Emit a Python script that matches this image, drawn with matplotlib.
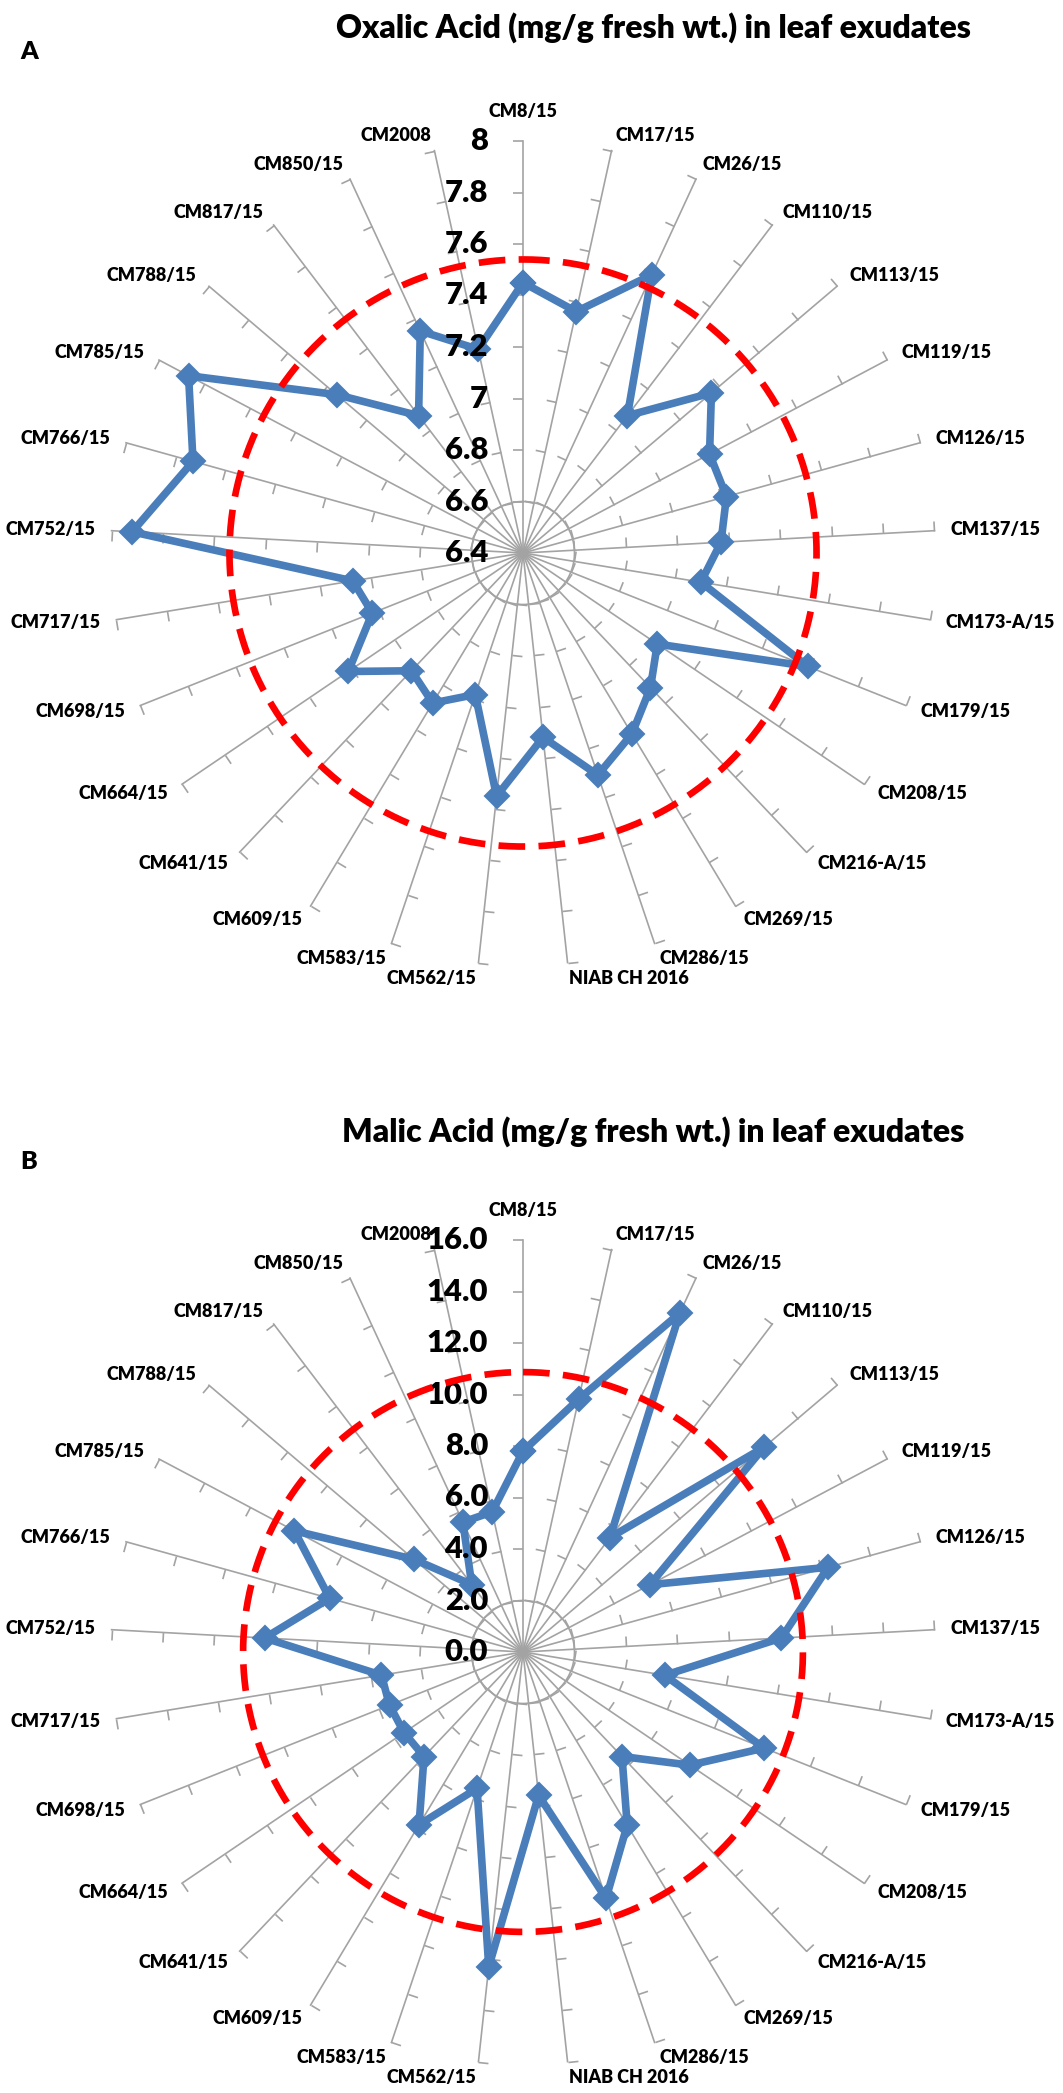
import numpy as np
import matplotlib
matplotlib.use('Agg')
import matplotlib.pyplot as plt
from matplotlib.path import Path
from matplotlib.markers import MarkerStyle

plt.rcParams['font.family'] = ['Lato', 'DejaVu Sans']
plt.rcParams['font.weight'] = 'heavy'

categories = ['CM8/15', 'CM17/15', 'CM26/15', 'CM110/15', 'CM113/15', 'CM119/15',
              'CM126/15', 'CM137/15', 'CM173-A/15', 'CM179/15', 'CM208/15',
              'CM216-A/15', 'CM269/15', 'CM286/15', 'NIAB CH 2016', 'CM562/15',
              'CM583/15', 'CM609/15', 'CM641/15', 'CM664/15', 'CM698/15',
              'CM717/15', 'CM752/15', 'CM766/15', 'CM785/15', 'CM788/15',
              'CM817/15', 'CM850/15', 'CM2008']

oxalic = [7.45, 7.36, 7.59, 7.07, 7.36, 7.22, 7.22, 7.17, 7.10, 7.59, 7.03,
          7.12, 7.22, 7.31, 7.12, 7.35, 6.98, 7.08, 7.03, 7.22, 7.03, 7.07,
          7.92, 7.73, 7.87, 7.35, 7.07, 7.35, 7.21]
malic = [7.8, 10.05, 14.5, 5.58, 12.28, 5.58, 12.3, 10.05, 5.58, 10.08, 7.83,
         5.59, 7.85, 10.1, 5.6, 12.3, 5.59, 7.83, 5.59, 5.58, 5.58, 5.57,
         10.05, 7.79, 10.05, 5.56, 3.29, 5.56, 5.57]

oxalic_ticks = [6.4, 6.6, 6.8, 7.0, 7.2, 7.4, 7.6, 7.8, 8.0]
oxalic_tick_labels = ['6.4', '6.6', '6.8', '7', '7.2', '7.4', '7.6', '7.8', '8']
malic_ticks = [0, 2, 4, 6, 8, 10, 12, 14, 16]
malic_tick_labels = ['0.0', '2.0', '4.0', '6.0', '8.0', '10.0', '12.0', '14.0', '16.0']

oxalic_ref = 7.54   # red dashed reference circle
malic_ref = 10.87

blue = '#4a7ebb'
grey = '#a3a3a3'
PX = 0.72  # points per pixel at dpi 100


def radar(ax, values, ticks, tick_labels, ref):
    n = len(categories)
    theta = np.arange(n) * 2 * np.pi / n
    rmin, rmax = ticks[0], ticks[-1]
    ax.set_theta_zero_location('N')
    ax.set_theta_direction(-1)
    ax.set_ylim(rmin, rmax)
    ax.axis('off')

    tick_len = 10 * PX
    for t in theta:
        ax.plot([t, t], [rmin, rmax], color=grey, lw=1.2, zorder=1, clip_on=False)
        c, s = np.cos(t), np.sin(t)
        m = max(abs(c), abs(s))
        mk = MarkerStyle(Path([(0, 0), (-c, s)]))
        ax.plot([t] * (len(ticks) - 1), ticks[1:], ls='none', marker=mk,
                markersize=2 * tick_len * m, markeredgecolor=grey,
                markerfacecolor='none', markeredgewidth=1.2, zorder=1, clip_on=False)

    # small grey circle at the first gridline
    circ_t = np.linspace(0, 2 * np.pi, 200)
    ax.plot(circ_t, [ticks[1]] * len(circ_t), color=grey, lw=1.2, zorder=1)

    # data series
    ax.plot(np.append(theta, theta[0]), list(values) + [values[0]], color=blue,
            lw=5.5, marker='D', markersize=12, markeredgecolor=blue,
            markeredgewidth=1.5, zorder=3, clip_on=False)

    # reference circle
    ax.plot(circ_t, [ref] * len(circ_t), color='red', lw=4.8, ls=(0, (4, 2)),
            zorder=4, clip_on=False)

    # value axis labels on the first spoke
    for tv, tl in zip(ticks, tick_labels):
        ax.annotate(tl, xy=(0, tv), xytext=(-35 * PX, 0), textcoords='offset points',
                    ha='right', va='center', fontsize=22.3, fontweight='heavy',
                    annotation_clip=False)

    # category labels
    gap = 16 * PX
    for t, lab in zip(theta, categories):
        s, c = np.sin(t), np.cos(t)
        if abs(s) < 1e-6:
            off = (0, 30 * PX)
            ha = 'center'
        else:
            off = (gap * s, gap * c)
            ha = 'left' if s > 0 else 'right'
        ax.annotate(lab, xy=(t, rmax), xytext=off, textcoords='offset points',
                    ha=ha, va='center', fontsize=13, fontweight='heavy',
                    annotation_clip=False)


W, H = 1063, 2093
fig = plt.figure(figsize=(W / 100, H / 100), dpi=100)

R = 412
cx = 523
for cy, vals, tk, tl, ref in [(553, oxalic, oxalic_ticks, oxalic_tick_labels, oxalic_ref),
                              (1652, malic, malic_ticks, malic_tick_labels, malic_ref)]:
    ax = fig.add_axes([(cx - R) / W, (H - cy - R) / H, 2 * R / W, 2 * R / H],
                      projection='polar')
    radar(ax, vals, tk, tl, ref)

fig.text(653 / W, 1 - 38 / H, 'Oxalic Acid (mg/g fresh wt.) in leaf exudates',
         ha='center', va='baseline', fontsize=23, fontweight='heavy')
fig.text(20 / W, 1 - 52 / H, 'A', ha='left', va='center', fontsize=18, fontweight='heavy')
fig.text(653 / W, 1 - 1142 / H, 'Malic Acid (mg/g fresh wt.) in leaf exudates',
         ha='center', va='baseline', fontsize=23, fontweight='heavy')
fig.text(20 / W, 1 - 1162 / H, 'B', ha='left', va='center', fontsize=18, fontweight='heavy')

fig.savefig('out.png', dpi=100)
